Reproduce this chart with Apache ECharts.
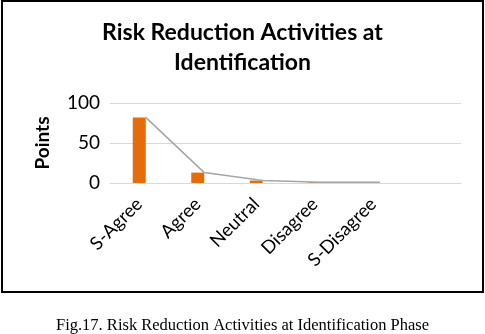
<!DOCTYPE html>
<html>
<head>
<meta charset="utf-8">
<script src="https://cdn.jsdelivr.net/npm/echarts@6/dist/echarts.min.js"></script>
<style>
  html, body { margin: 0; padding: 0; background: #fff; }
  #main { width: 485px; height: 334px; }
</style>
</head>
<body>
<div id="main"></div>
<script>
// categories (last slot is empty in the original chart)
var categories = ['S-Agree', 'Agree', 'Neutral', 'Disagree', 'S-Disagree', ''];
// points per answer
var points = [82, 13, 3, 1, 1, null];
var yTicks = [0, 50, 100];

var myChart = echarts.init(document.getElementById('main'));
var option = {
    animation: false,
    title: [
        {
            text: 'Risk Reduction Activities at\nIdentification',
            left: 'center',
            top: 13,
            textStyle: { fontFamily: 'Lato', fontWeight: 'bold', fontSize: 23, lineHeight: 30, color: '#000' }
        },
        {
            text: 'Fig.17. Risk Reduction Activities at Identification Phase',
            left: 'center',
            top: 312,
            textStyle: { fontFamily: 'Liberation Serif', fontWeight: 'normal', fontSize: 16.5, color: '#000' }
        }
    ],
    graphic: [
        {
            type: 'rect',
            shape: { x: 2, y: 1, width: 481, height: 291 },
            style: { fill: 'none', stroke: '#000', lineWidth: 2 }
        }
    ],
    grid: [
        { left: 110, right: 24, top: 103, bottom: 151 },
        // line sits on the right edge of the bars
        { left: 116.5, right: 17.5, top: 103, bottom: 151 }
    ],
    xAxis: [
        {
            type: 'category',
            data: categories,
            gridIndex: 0,
            axisTick: { show: false },
            axisLine: { lineStyle: { color: '#d9d9d9' } },
            axisLabel: { rotate: 45, margin: 18, fontFamily: 'Lato', fontSize: 18.5, color: '#000', interval: 0 }
        },
        {
            type: 'category',
            data: categories,
            gridIndex: 1,
            show: false
        }
    ],
    yAxis: [
        {
            type: 'value',
            gridIndex: 0,
            min: yTicks[0],
            max: yTicks[yTicks.length - 1],
            interval: 50,
            name: 'Points',
            nameLocation: 'middle',
            nameGap: 58,
            nameTextStyle: { fontFamily: 'Lato', fontWeight: 'bold', fontSize: 19, color: '#000' },
            axisLine: { show: false },
            axisTick: { show: false },
            axisLabel: { fontFamily: 'Lato', fontSize: 19, color: '#000', margin: 10 },
            splitLine: { lineStyle: { color: '#d9d9d9' } }
        },
        {
            type: 'value',
            gridIndex: 1,
            min: yTicks[0],
            max: yTicks[yTicks.length - 1],
            show: false,
            splitLine: { show: false }
        }
    ],
    series: [
        {
            name: 'Points',
            type: 'bar',
            data: points,
            barWidth: 13,
            itemStyle: { color: '#e46c0a' }
        },
        {
            name: 'Trend',
            type: 'line',
            xAxisIndex: 1,
            yAxisIndex: 1,
            data: points,
            symbol: 'none',
            lineStyle: { color: '#a5a5a5', width: 1.5 }
        }
    ]
};
myChart.setOption(option);
</script>
</body>
</html>
